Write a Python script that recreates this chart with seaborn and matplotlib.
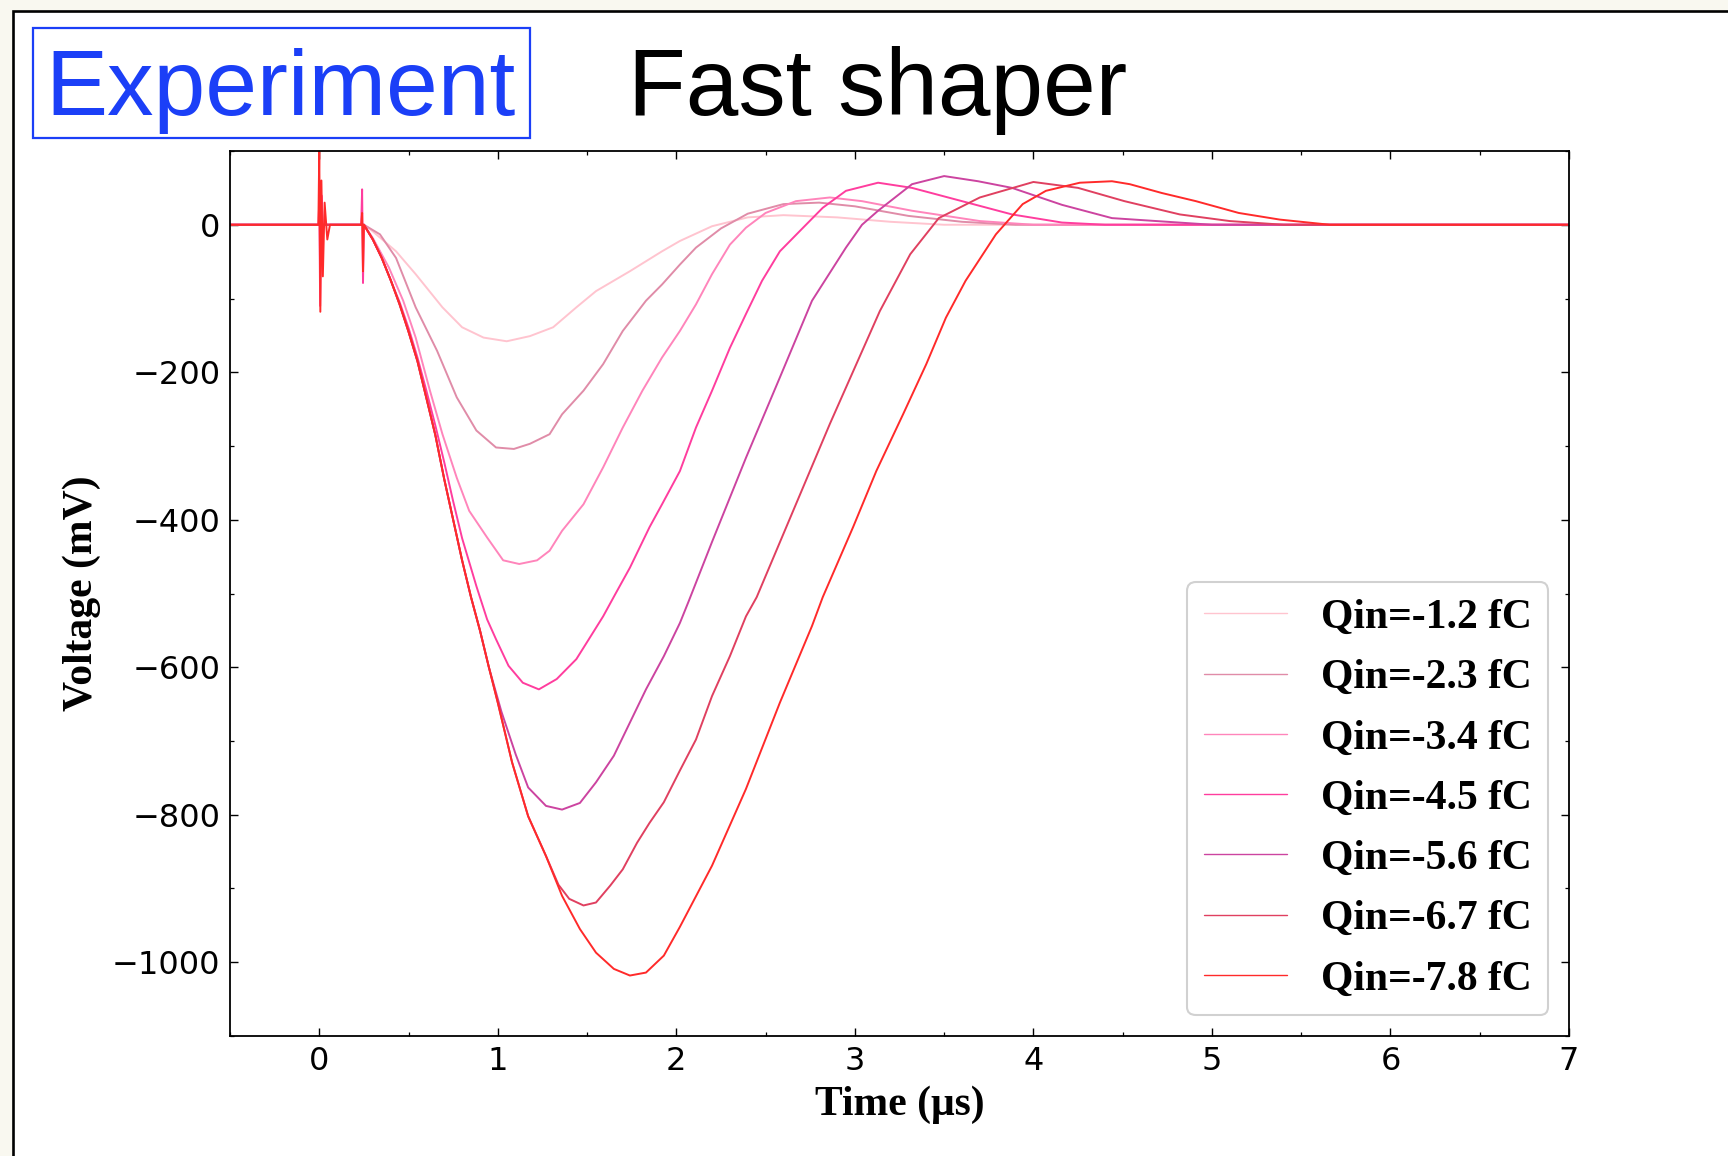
import numpy as np
import pandas as pd
import seaborn as sns
import matplotlib
matplotlib.use("Agg")
import matplotlib.pyplot as plt
from matplotlib.patches import Rectangle
from matplotlib.ticker import MultipleLocator

# ---------------- data ----------------
labels = ["Qin=-1.2 fC", "Qin=-2.3 fC", "Qin=-3.4 fC", "Qin=-4.5 fC",
          "Qin=-5.6 fC", "Qin=-6.7 fC", "Qin=-7.8 fC"]
colors = ["#ffc4cf", "#e08ca8", "#ff85bb", "#ff3d9e", "#cc44a0", "#e04060", "#ff2a2a"]

t_q12 = [-0.5, 0.25, 0.28, 0.43, 0.54, 0.69, 0.80, 0.92, 1.05, 1.18, 1.31, 1.44, 1.55,
         1.74, 1.92, 2.02, 2.20, 2.40, 2.60, 2.90, 3.20, 3.50, 7.0]
v_q12 = [0, 0, -5, -36, -67, -112, -139, -153, -158, -151, -139, -112, -90,
         -63, -36, -22, -2, 10, 13, 10, 4, 0, 0]

t_q23 = [-0.5, 0.25, 0.34, 0.43, 0.54, 0.66, 0.77, 0.88, 0.99, 1.09, 1.18, 1.29, 1.36,
         1.48, 1.59, 1.70, 1.83, 1.92, 2.02, 2.11, 2.25, 2.40, 2.60, 2.80, 3.00,
         3.30, 3.60, 3.90, 7.0]
v_q23 = [0, 0, -13, -45, -112, -171, -234, -279, -302, -304, -297, -284, -257,
         -225, -189, -144, -103, -81, -54, -31, -5, 15, 28, 30, 25,
         12, 4, 0, 0]

t_q34 = [-0.5, 0.25, 0.30, 0.39, 0.47, 0.54, 0.62, 0.69, 0.77, 0.84, 0.94, 1.03, 1.12,
         1.22, 1.29, 1.36, 1.48, 1.59, 1.70, 1.81, 1.92, 2.02, 2.11, 2.20, 2.30,
         2.39, 2.50, 2.67, 2.86, 3.04, 3.32, 3.70, 4.00, 7.0]
v_q34 = [0, 0, -18, -58, -103, -153, -225, -284, -343, -388, -424, -455, -460,
         -455, -442, -415, -379, -329, -275, -225, -180, -144, -108, -67, -27,
         -4, 16, 32, 37, 32, 19, 5, 0, 0]

t_q45 = [-0.5, -0.005, 0.0, 0.005, 0.012, 0.02, 0.235, 0.24, 0.245, 0.25, 0.30, 0.35,
         0.40, 0.45, 0.50, 0.55, 0.60, 0.65, 0.70, 0.75, 0.80, 0.88, 0.94, 0.99,
         1.06, 1.14, 1.23, 1.33, 1.44, 1.51, 1.59, 1.66, 1.74, 1.85, 1.92, 2.02,
         2.11, 2.20, 2.30, 2.39, 2.48, 2.58, 2.71, 2.82, 2.95, 3.13, 3.32, 3.60,
         3.88, 4.16, 4.40, 7.0]
v_q45 = [0, 0, 30, -110, 40, 0, 0, 48, -79, 0, -20, -45,
         -75, -105, -140, -180, -225, -272, -322, -375, -425, -490, -535, -562,
         -598, -621, -630, -616, -589, -562, -531, -500, -465, -410, -379, -334,
         -275, -225, -167, -121, -76, -36, -4, 23, 46, 57, 50, 32,
         14, 3, 0, 0]

t_q56 = [-0.5, 0.25, 0.30, 0.35, 0.40, 0.45, 0.50, 0.55, 0.60, 0.65, 0.70, 0.75, 0.80,
         0.85, 0.90, 0.95, 1.02, 1.10, 1.17, 1.27, 1.36, 1.46, 1.55, 1.65, 1.74,
         1.83, 1.93, 2.02, 2.07, 2.20, 2.39, 2.58, 2.76, 2.95, 3.04, 3.13, 3.32,
         3.50, 3.69, 3.88, 4.16, 4.44, 5.00, 7.0]
v_q56 = [0, 0, -20, -45, -75, -108, -145, -185, -235, -285, -345, -400, -455,
         -505, -550, -600, -660, -718, -763, -788, -793, -784, -756, -720, -675,
         -630, -585, -540, -510, -430, -316, -207, -103, -31, 0, 19, 55,
         66, 59, 50, 27, 9, 0, 0]

t_q67 = [-0.5, 0.25, 0.30, 0.35, 0.40, 0.45, 0.50, 0.55, 0.60, 0.65, 0.70, 0.75, 0.80,
         0.85, 0.90, 0.95, 1.00, 1.08, 1.17, 1.27, 1.34, 1.40, 1.48, 1.55, 1.63,
         1.70, 1.78, 1.85, 1.93, 2.02, 2.11, 2.20, 2.30, 2.39, 2.45, 2.86, 3.14,
         3.31, 3.47, 3.70, 4.00, 4.25, 4.51, 4.82, 5.10, 5.40, 7.0]
v_q67 = [0, 0, -20, -45, -75, -108, -145, -185, -235, -285, -345, -400, -455,
         -505, -550, -600, -648, -729, -802, -856, -895, -914, -923, -919, -896,
         -874, -838, -811, -783, -740, -698, -639, -585, -531, -505, -270, -117,
         -40, 9, 37, 58, 50, 32, 14, 5, 0, 0]

t_q78 = [-0.5, -0.005, 0.0, 0.006, 0.012, 0.02, 0.03, 0.045, 0.06, 0.235, 0.24, 0.245,
         0.25, 0.30, 0.35, 0.40, 0.45, 0.50, 0.55, 0.60, 0.65, 0.70, 0.75, 0.80,
         0.85, 0.90, 0.95, 1.00, 1.08, 1.17, 1.27, 1.36, 1.46, 1.55, 1.65, 1.74,
         1.83, 1.93, 2.02, 2.20, 2.39, 2.58, 2.76, 2.82, 2.99, 3.12, 3.27, 3.40,
         3.51, 3.62, 3.79, 3.94, 4.07, 4.26, 4.44, 4.54, 4.72, 4.91, 5.15, 5.38,
         5.66, 7.0]
v_q78 = [0, 0, 100, -118, 60, -70, 30, -20, 0, 0, 16, -63,
         0, -20, -45, -75, -108, -145, -185, -235, -285, -345, -400, -455,
         -505, -550, -600, -648, -729, -802, -856, -910, -955, -987, -1009, -1018,
         -1014, -991, -952, -869, -765, -648, -544, -505, -410, -334, -257, -189,
         -126, -76, -13, 28, 46, 57, 59, 55, 43, 32, 16, 7,
         0, 0]

times = [t_q12, t_q23, t_q34, t_q45, t_q56, t_q67, t_q78]
volts = [v_q12, v_q23, v_q34, v_q45, v_q56, v_q67, v_q78]

x_ticks = [0, 1, 2, 3, 4, 5, 6, 7]
y_ticks = [0, -200, -400, -600, -800, -1000]

df = pd.concat(
    [pd.DataFrame({"t": t, "v": v, "label": lab}) for t, v, lab in zip(times, volts, labels)],
    ignore_index=True)

# ---------------- figure ----------------
sns.set_style("ticks")
plt.rcParams["font.family"] = ["DejaVu Sans"]
plt.rcParams["text.color"] = "black"
plt.rcParams["axes.labelcolor"] = "black"
plt.rcParams["xtick.color"] = "black"
plt.rcParams["ytick.color"] = "black"

W, H = 1728, 1156
fig = plt.figure(figsize=(W / 100, H / 100), dpi=100, facecolor="#f9f8f0")

def fx(px):
    return px / W

def fy(py):
    return 1 - py / H

# slide panel with black border
fig.patches.append(Rectangle((fx(13), fy(1200)), fx(1800) - fx(13), fy(11) - fy(1200),
                             transform=fig.transFigure, facecolor="white",
                             edgecolor="black", linewidth=1.9, zorder=-10))
# blue box around "Experiment"
fig.patches.append(Rectangle((fx(33), fy(138)), fx(530) - fx(33), fy(28) - fy(138),
                             transform=fig.transFigure, facecolor="none",
                             edgecolor="#1b3ff7", linewidth=1.6, zorder=5))
fig.text(fx(45), fy(115), "Experiment", color="#1b3ff7", fontsize=67,
         family="Liberation Sans", va="baseline", ha="left")
fig.text(fx(628), fy(115), "Fast shaper", color="black", fontsize=68,
         family="Liberation Sans", va="baseline", ha="left")

ax = fig.add_axes([fx(230), fy(1036), fx(1569) - fx(230), fy(151) - fy(1036)])
ax.set_facecolor("white")

sns.lineplot(data=df, x="t", y="v", hue="label", hue_order=labels,
             palette=dict(zip(labels, colors)), estimator=None, sort=False,
             linewidth=1.4, ax=ax)

ax.set_xlim(-0.5, 7)
ax.set_ylim(-1100, 100)
ax.set_xticks(x_ticks)
ax.set_yticks(y_ticks)
ax.xaxis.set_minor_locator(MultipleLocator(0.5))
ax.yaxis.set_minor_locator(MultipleLocator(100))
ax.tick_params(which="both", direction="in", top=True, right=True, colors="black")
ax.tick_params(which="major", length=6, width=1.0, labelsize=23, pad=7)
ax.tick_params(which="minor", length=3, width=0.9)
for s in ax.spines.values():
    s.set_linewidth(1.3)
    s.set_color("black")

lab_font = dict(family="Liberation Serif", weight="bold", size=30, color="black")
ax.set_xlabel("Time (μs)", fontdict=lab_font, labelpad=6)
ax.set_ylabel("Voltage (mV)", fontdict=lab_font, labelpad=8)

handles, labs = ax.get_legend_handles_labels()
leg = ax.legend(handles, labs, loc="lower right",
                prop=dict(family="Liberation Serif", weight="bold", size=30),
                handlelength=2.0, handletextpad=0.8, labelspacing=0.53,
                borderpad=0.4, frameon=True, fancybox=True, framealpha=0.9,
                edgecolor="#cccccc", labelcolor="black")
leg.get_frame().set_linewidth(1.5)
for h in leg.get_lines():
    h.set_linewidth(1.0)

fig.savefig("out.png", dpi=100, facecolor=fig.get_facecolor())
